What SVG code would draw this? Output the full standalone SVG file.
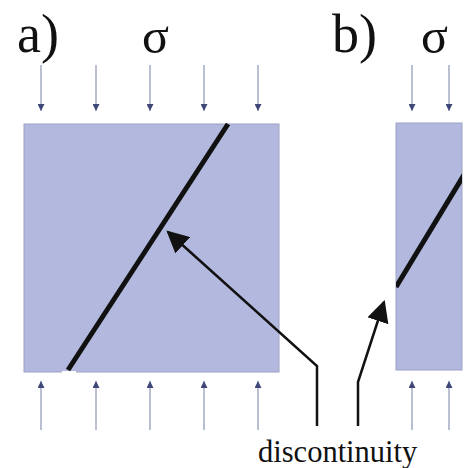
<svg xmlns="http://www.w3.org/2000/svg" width="465" height="468" viewBox="0 0 465 468">
<style>
.lbl{font-family:"Liberation Serif","Times New Roman",serif;fill:#111}
.box{fill:#b3b9de;stroke:#9ca1c4;stroke-width:1}
.load{stroke:#8e94b4;stroke-width:1.2;fill:none}
.crack{stroke:#111;stroke-width:5;fill:none}
.ptr{stroke:#111;stroke-width:2.5;fill:none}
</style>
<defs>
<marker id="lh" viewBox="0 0 10 10" refX="10" refY="5" markerWidth="7" markerHeight="7" markerUnits="userSpaceOnUse" orient="auto">
<path d="M0,0 L10,5 L0,10 Z" fill="#3f4878"/>
</marker>
<marker id="ph" viewBox="0 0 10 10" refX="9" refY="5" markerWidth="22" markerHeight="22" markerUnits="userSpaceOnUse" orient="auto">
<path d="M0,0 L10,5 L0,10 Z" fill="#111"/>
</marker>
<clipPath id="cb"><rect x="396" y="123" width="66" height="247"/></clipPath>
</defs>
<g id="labels">
<text class="lbl" x="17" y="52" font-size="54">a)</text>
<text class="lbl" x="142" y="53" font-size="50">σ</text>
<text class="lbl" x="332" y="52" font-size="54">b)</text>
<text class="lbl" x="421" y="53" font-size="50">σ</text>
<text class="lbl" x="258" y="462" font-size="30.5">discontinuity</text>
</g>
<g id="sampleA">
<rect class="box" x="24" y="124" width="255" height="248"/>
<line x1="62" y1="372" x2="76" y2="372" stroke="#fff" stroke-width="2"/>
<line class="crack" x1="68" y1="370" x2="228" y2="124"/>
</g>
<g id="sampleB">
<rect class="box" x="396" y="123" width="66" height="247"/>
<line class="crack" x1="396" y1="287" x2="470" y2="165" clip-path="url(#cb)"/>
</g>
<g id="loads">
<line class="load" x1="41" y1="65" x2="41" y2="111" marker-end="url(#lh)"/>
<line class="load" x1="96" y1="65" x2="96" y2="111" marker-end="url(#lh)"/>
<line class="load" x1="150" y1="65" x2="150" y2="111" marker-end="url(#lh)"/>
<line class="load" x1="204" y1="65" x2="204" y2="111" marker-end="url(#lh)"/>
<line class="load" x1="258" y1="65" x2="258" y2="111" marker-end="url(#lh)"/>
<line class="load" x1="412" y1="65" x2="412" y2="111" marker-end="url(#lh)"/>
<line class="load" x1="449" y1="65" x2="449" y2="111" marker-end="url(#lh)"/>
<line class="load" x1="41" y1="430" x2="41" y2="381" marker-end="url(#lh)"/>
<line class="load" x1="96" y1="430" x2="96" y2="381" marker-end="url(#lh)"/>
<line class="load" x1="150" y1="430" x2="150" y2="381" marker-end="url(#lh)"/>
<line class="load" x1="204" y1="430" x2="204" y2="381" marker-end="url(#lh)"/>
<line class="load" x1="258" y1="430" x2="258" y2="381" marker-end="url(#lh)"/>
<line class="load" x1="412" y1="430" x2="412" y2="381" marker-end="url(#lh)"/>
<line class="load" x1="449" y1="430" x2="449" y2="381" marker-end="url(#lh)"/>
</g>
<g id="connectors">
<path class="ptr" d="M317,426 L317,366 L168,232" marker-end="url(#ph)"/>
<path class="ptr" d="M358,426 L358,382 L384,302" marker-end="url(#ph)"/>
</g>
</svg>
